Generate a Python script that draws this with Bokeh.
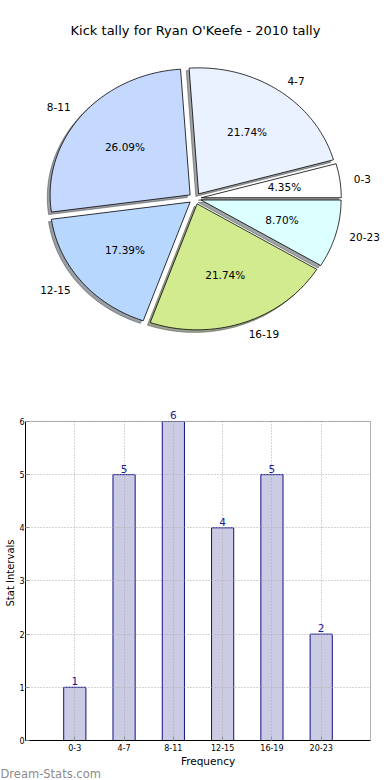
import numpy as np
from bokeh.plotting import figure
from bokeh.models import (ColumnDataSource, Range1d, FixedTicker, LabelSet,
                          Label, Title, BoxAnnotation)
from bokeh.layouts import column
from bokeh.embed import file_html
from bokeh.resources import INLINE
from bokeh.core.properties import value

# ---------------- data ----------------
title_text = "Kick tally for Ryan O'Keefe - 2010 tally"
categories = ["0-3", "4-7", "8-11", "12-15", "16-19", "20-23"]
counts = [1, 5, 6, 4, 5, 2]
slice_colors = ["#ffffff", "#ebf2ff", "#c5d9ff", "#b7d7ff", "#d1eb8e", "#dcffff"]
y_ticks = [0, 1, 2, 3, 4, 5, 6]
x_label = "Frequency"
y_label = "Stat Intervals"
watermark = "Dream-Stats.com"

# ---------------- style / layout ----------------
FONT = "DejaVu Sans"
W = 390
LEFT = 25                       # shared left border of both figures
FW = W - LEFT                   # frame width of both figures
PIE_H = 400
BAR_H = 380
EXPLODE = 0.045
RX, RY = 140.0, 126.0           # px per pie-radius unit (elliptic pie)
CX_PX = 194.5 - LEFT            # pie centre, px from frame left
CY_PX = 198                     # pie centre, px from frame top

# ---------------- pie geometry from data ----------------
total = float(sum(counts))
fracs = np.array(counts) / total
ends = np.cumsum(fracs) * 2 * np.pi
starts = ends - fracs * 2 * np.pi
mids = (starts + ends) / 2

xs, ys, sh_xs, sh_ys = [], [], [], []
for a0, a1, m in zip(starts, ends, mids):
    ox, oy = EXPLODE * np.cos(m), EXPLODE * np.sin(m)
    n = max(int(np.degrees(a1 - a0)), 2) + 1
    t = np.linspace(a0, a1, n)
    px = np.concatenate([[ox], ox + np.cos(t), [ox]])
    py = np.concatenate([[oy], oy + np.sin(t), [oy]])
    xs.append(list(px))
    ys.append(list(py))
    sh_xs.append(list(px - 0.02))
    sh_ys.append(list(py - 0.02))


def shade(hexcol):
    r, g, b = (int(hexcol[i:i + 2], 16) for i in (1, 3, 5))
    return "#%02x%02x%02x" % (int(r * 0.3), int(g * 0.3), int(b * 0.3))


shadow_colors = [shade(c) for c in slice_colors]

p1 = figure(width=W, height=PIE_H,
            x_range=Range1d(-CX_PX / RX, (FW - CX_PX) / RX),
            y_range=Range1d(-(PIE_H - CY_PX) / RY, CY_PX / RY),
            x_axis_location=None, y_axis_location=None,
            output_backend="svg", toolbar_location=None,
            min_border_left=LEFT, min_border_right=0,
            min_border_top=0, min_border_bottom=0)
p1.grid.visible = False
p1.outline_line_color = None

p1.add_layout(Label(x=195 - LEFT, y=PIE_H - 30, x_units="screen", y_units="screen",
                    text=title_text, text_align="center", text_baseline="middle",
                    text_font=FONT, text_font_size="13px", text_color="#000000"))

p1.patches(xs=sh_xs, ys=sh_ys, fill_color=shadow_colors, fill_alpha=0.5,
           line_color=shadow_colors, line_alpha=0.5, line_width=1)
p1.patches(xs=xs, ys=ys, fill_color=slice_colors, line_color="#000000", line_width=0.8)

# outer labels
lab_r = EXPLODE + 1.1
lx = lab_r * np.cos(mids)
ly = lab_r * np.sin(mids)
right_side = np.cos(mids) > 0
for side, align in ((right_side, "left"), (~right_side, "right")):
    src = ColumnDataSource(dict(x=lx[side], y=ly[side],
                                t=[c for c, s in zip(categories, side) if s]))
    p1.text(x="x", y="y", text="t", source=src, text_align=align,
            text_baseline="middle", text_font=value(FONT),
            text_font_size="10.5px", text_color="#000000")

# percentage labels
pct_r = EXPLODE + 0.6
pct_src = ColumnDataSource(dict(x=pct_r * np.cos(mids), y=pct_r * np.sin(mids),
                                t=["%.2f%%" % (f * 100) for f in fracs]))
p1.text(x="x", y="y", text="t", source=pct_src, text_align="center",
        text_baseline="middle", text_font=value(FONT),
        text_font_size="10.5px", text_color="#000000")

# ---------------- bar chart ----------------
positions = list(range(1, len(categories) + 1))
X_END = len(categories) + 1          # box right edge (one slot after last bar)
Y_END = max(y_ticks)
PX_PER_X = (370 - LEFT) / X_END      # box spans page x LEFT .. 370
XMAX = FW / PX_PER_X
YMAX = 6.3

p2 = figure(width=W, height=BAR_H,
            x_range=Range1d(0, XMAX), y_range=Range1d(0, YMAX),
            output_backend="svg", toolbar_location=None,
            min_border_top=5, min_border_bottom=40, min_border_right=0,
            min_border_left=LEFT)
p2.outline_line_color = None

bar_src = ColumnDataSource(dict(x=positions, top=counts, t=[str(c) for c in counts]))
p2.vbar(x="x", top="top", width=0.45, source=bar_src,
        fill_color="#cbcbe3", line_color="#12128a", line_width=1)

xa, ya = p2.xaxis[0], p2.yaxis[0]
xa.ticker = FixedTicker(ticks=positions)
xa.major_label_overrides = {p: c for p, c in zip(positions, categories)}
xa.bounds = (0, X_END)
ya.ticker = FixedTicker(ticks=y_ticks)
ya.bounds = (0, Y_END)
for ax in (xa, ya):
    ax.major_tick_in = 4
    ax.major_tick_out = 0
    ax.major_tick_line_color = "#888888"
    ax.minor_tick_line_color = None
    ax.axis_line_color = "#000000"
    ax.axis_line_width = 1
    ax.major_label_text_font = FONT
    ax.major_label_text_font_size = "8px"
    ax.major_label_text_color = "#000000"
    ax.axis_label_text_font = FONT
    ax.axis_label_text_font_style = "normal"
    ax.axis_label_text_color = "#000000"
xa.axis_label = x_label
xa.axis_label_text_font_size = "10.5px"
xa.major_label_standoff = 3
xa.axis_label_standoff = 1
ya.axis_label = y_label
ya.axis_label_text_font_size = "10px"
ya.major_label_standoff = 1
ya.axis_label_standoff = 0

p2.xgrid.ticker = FixedTicker(ticks=positions)
p2.ygrid.ticker = FixedTicker(ticks=y_ticks)
for g in (p2.xgrid, p2.ygrid):
    g.grid_line_color = "#aaaaaa"
    g.grid_line_dash = "1 2"
    g.grid_line_width = 1
    g.level = "guide"

# blank space outside the box, then the box edges
p2.add_layout(BoxAnnotation(bottom=Y_END, fill_color="#ffffff", fill_alpha=1.0, line_color=None))
p2.add_layout(BoxAnnotation(left=X_END, fill_color="#ffffff", fill_alpha=1.0, line_color=None))
p2.add_layout(BoxAnnotation(left=0, right=X_END, bottom=0, top=Y_END, fill_alpha=0.0,
                            fill_color=None, line_color="#000000", line_width=1))

p2.add_layout(LabelSet(x="x", y="top", text="t", source=bar_src,
                       text_align="center", text_baseline="bottom", y_offset=2,
                       text_font=value(FONT), text_font_size="10.5px",
                       text_color="#1c1c99"))

p2.add_layout(Title(text=watermark, align="left", offset=-LEFT, standoff=-9,
                    text_font=FONT, text_font_size="11.5px", text_font_style="normal",
                    text_color="#8c8c8c"), "below")

layout = column(p1, p2, spacing=0)
open("out.html", "w").write(file_html(layout, INLINE))
